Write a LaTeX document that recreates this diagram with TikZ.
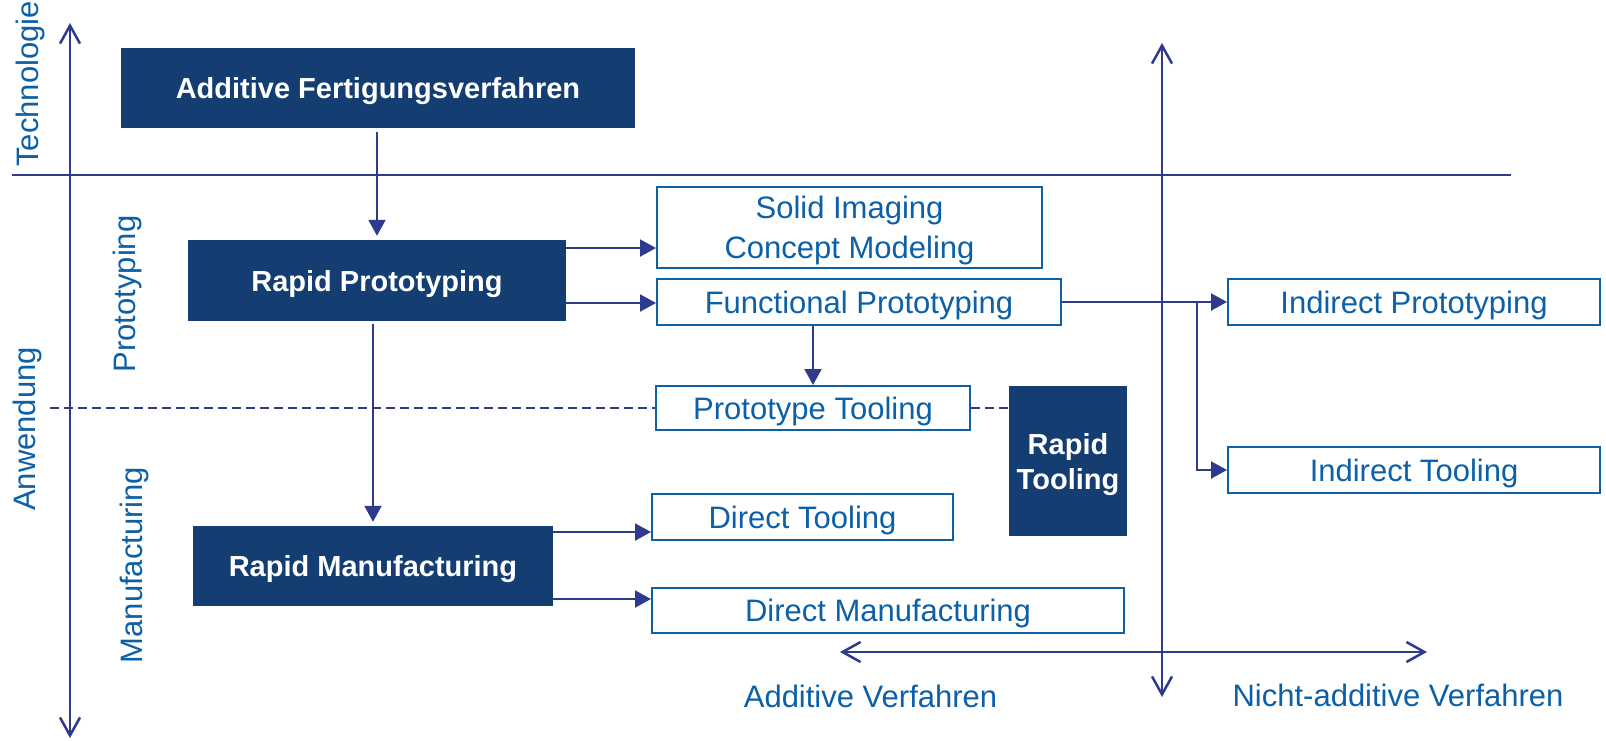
\documentclass[tikz,border=0pt]{standalone}
\usepackage{fontspec}
\setmainfont{Liberation Sans}
\usetikzlibrary{arrows.meta}
\definecolor{boxdark}{RGB}{20,62,113}
\definecolor{txtblue}{RGB}{12,96,168}
\definecolor{linecol}{RGB}{46,58,140}

\begin{document}
\begin{tikzpicture}[x=1pt,y=-1pt,
  darkbox/.style={fill=boxdark, text=white, font=\fontsize{29}{35}\selectfont\bfseries, inner sep=0pt, align=center, text depth=0pt},
  lightbox/.style={draw=txtblue, line width=2pt, fill=white, text=txtblue, font=\fontsize{31}{40}\selectfont, inner sep=0pt, align=center, text depth=0pt},
  conn/.style={draw=linecol, line width=2pt, -{Triangle[length=16pt,width=17pt]}},
  axisline/.style={draw=linecol, line width=2.5pt},
  axisarrows/.style={axisline, {Straight Barb[length=18pt,width=20pt]}-{Straight Barb[length=18pt,width=20pt]}},
  dashsep/.style={draw=linecol, line width=2pt, dash pattern=on 9pt off 5pt},
  lbl/.style={text=txtblue, font=\fontsize{31}{38}\selectfont, inner sep=0pt}
]
% canvas
\fill[white] (0,0) rectangle (1606,740);
\useasboundingbox (0,0) rectangle (1606,740);

% axes and separators
\coordinate (tTop) at (70,23);
\coordinate (tBot) at (70,738);
\draw[axisarrows] (tTop) -- (tBot);
\coordinate (hL) at (12,175);
\coordinate (hR) at (1511,175);
\draw[axisline] (hL) -- (hR);
\coordinate (vTop) at (1162,43);
\coordinate (vBot) at (1162,697);
\draw[axisarrows] (vTop) -- (vBot);
\coordinate (bL) at (840,652);
\coordinate (bR) at (1427,652);
\draw[axisarrows] (bL) -- (bR);

% main blocks
\node[darkbox, minimum width=514pt, minimum height=80pt] (addfert) at (378,88) {Additive Fertigungsverfahren};
\node[darkbox, minimum width=378pt, minimum height=81pt] (rp) at (377,280.5) {Rapid Prototyping};
\node[darkbox, minimum width=360pt, minimum height=80pt] (rm) at (373,566) {Rapid Manufacturing};
\node[darkbox, minimum width=118pt, minimum height=150pt] (rtool) at (1068,461) {Rapid\\Tooling};

% application boxes
\node[lightbox, minimum width=385pt, minimum height=81pt] (solid) at (849.5,227.5) {Solid Imaging\\Concept Modeling};
\node[lightbox, minimum width=404pt, minimum height=46pt] (func) at (859,302) {Functional Prototyping};
\node[lightbox, minimum width=314pt, minimum height=44pt] (ptool) at (813,408) {Prototype Tooling};
\node[lightbox, minimum width=301pt, minimum height=46pt] (dtool) at (802.5,517) {Direct Tooling};
\node[lightbox, minimum width=472pt, minimum height=45pt] (dman) at (888,610.5) {Direct Manufacturing};
\node[lightbox, minimum width=372pt, minimum height=46pt] (iproto) at (1414,302) {Indirect Prototyping};
\node[lightbox, minimum width=372pt, minimum height=46pt] (itool) at (1414,470) {Indirect Tooling};

% connectors
\path (rp.north |- addfert.south) ++(0,4) coordinate (afS);
\path (rp.north) ++(0,-4) coordinate (rpN);
\draw[conn] (afS) -- (rpN);
\path (rp.south -| rm.north) ++(0,3) coordinate (rpS);
\path (rm.north) ++(0,-4) coordinate (rmN);
\draw[conn] (rpS) -- (rmN);
\path (rp.east) ++(0,-32.5) coordinate (rpA);
\draw[conn] (rpA) -- (rpA -| solid.west);
\path (rp.east) ++(0,22.5) coordinate (rpB);
\draw[conn] (rpB) -- (rpB -| func.west);
\path (rm.east) ++(0,-34) coordinate (rmA);
\draw[conn] (rmA) -- (rmA -| dtool.west);
\path (rm.east) ++(0,33) coordinate (rmB);
\draw[conn] (rmB) -- (rmB -| dman.west);
\draw[conn] (ptool.north |- func.south) -- (ptool.north);
\draw[conn] (func.east) -- (iproto.west);
\path (iproto.west) ++(-30,0) coordinate (br);
\draw[conn] (br) |- (itool.west);

% prototyping / manufacturing border
\coordinate (dL) at (50,408);
\draw[dashsep] (dL) -- (dL -| ptool.west);
\draw[dashsep] (ptool.east) -- (ptool.east -| rtool.west);

% axis labels
\node[lbl, rotate=90, anchor=base] (technologie) at (38,84) {Technologie};
\node[lbl, rotate=90, anchor=base] (anwendung) at (35,429) {Anwendung};
\node[lbl, rotate=90, anchor=base] (prototyping) at (135,294) {Prototyping};
\node[lbl, rotate=90, anchor=base] (manufacturing) at (142,565) {Manufacturing};
\node[lbl, anchor=base] (additiv) at (870.5,707) {Additive Verfahren};
\node[lbl, anchor=base] (nichtadditiv) at (1398,706) {Nicht-additive Verfahren};
\end{tikzpicture}
\end{document}
